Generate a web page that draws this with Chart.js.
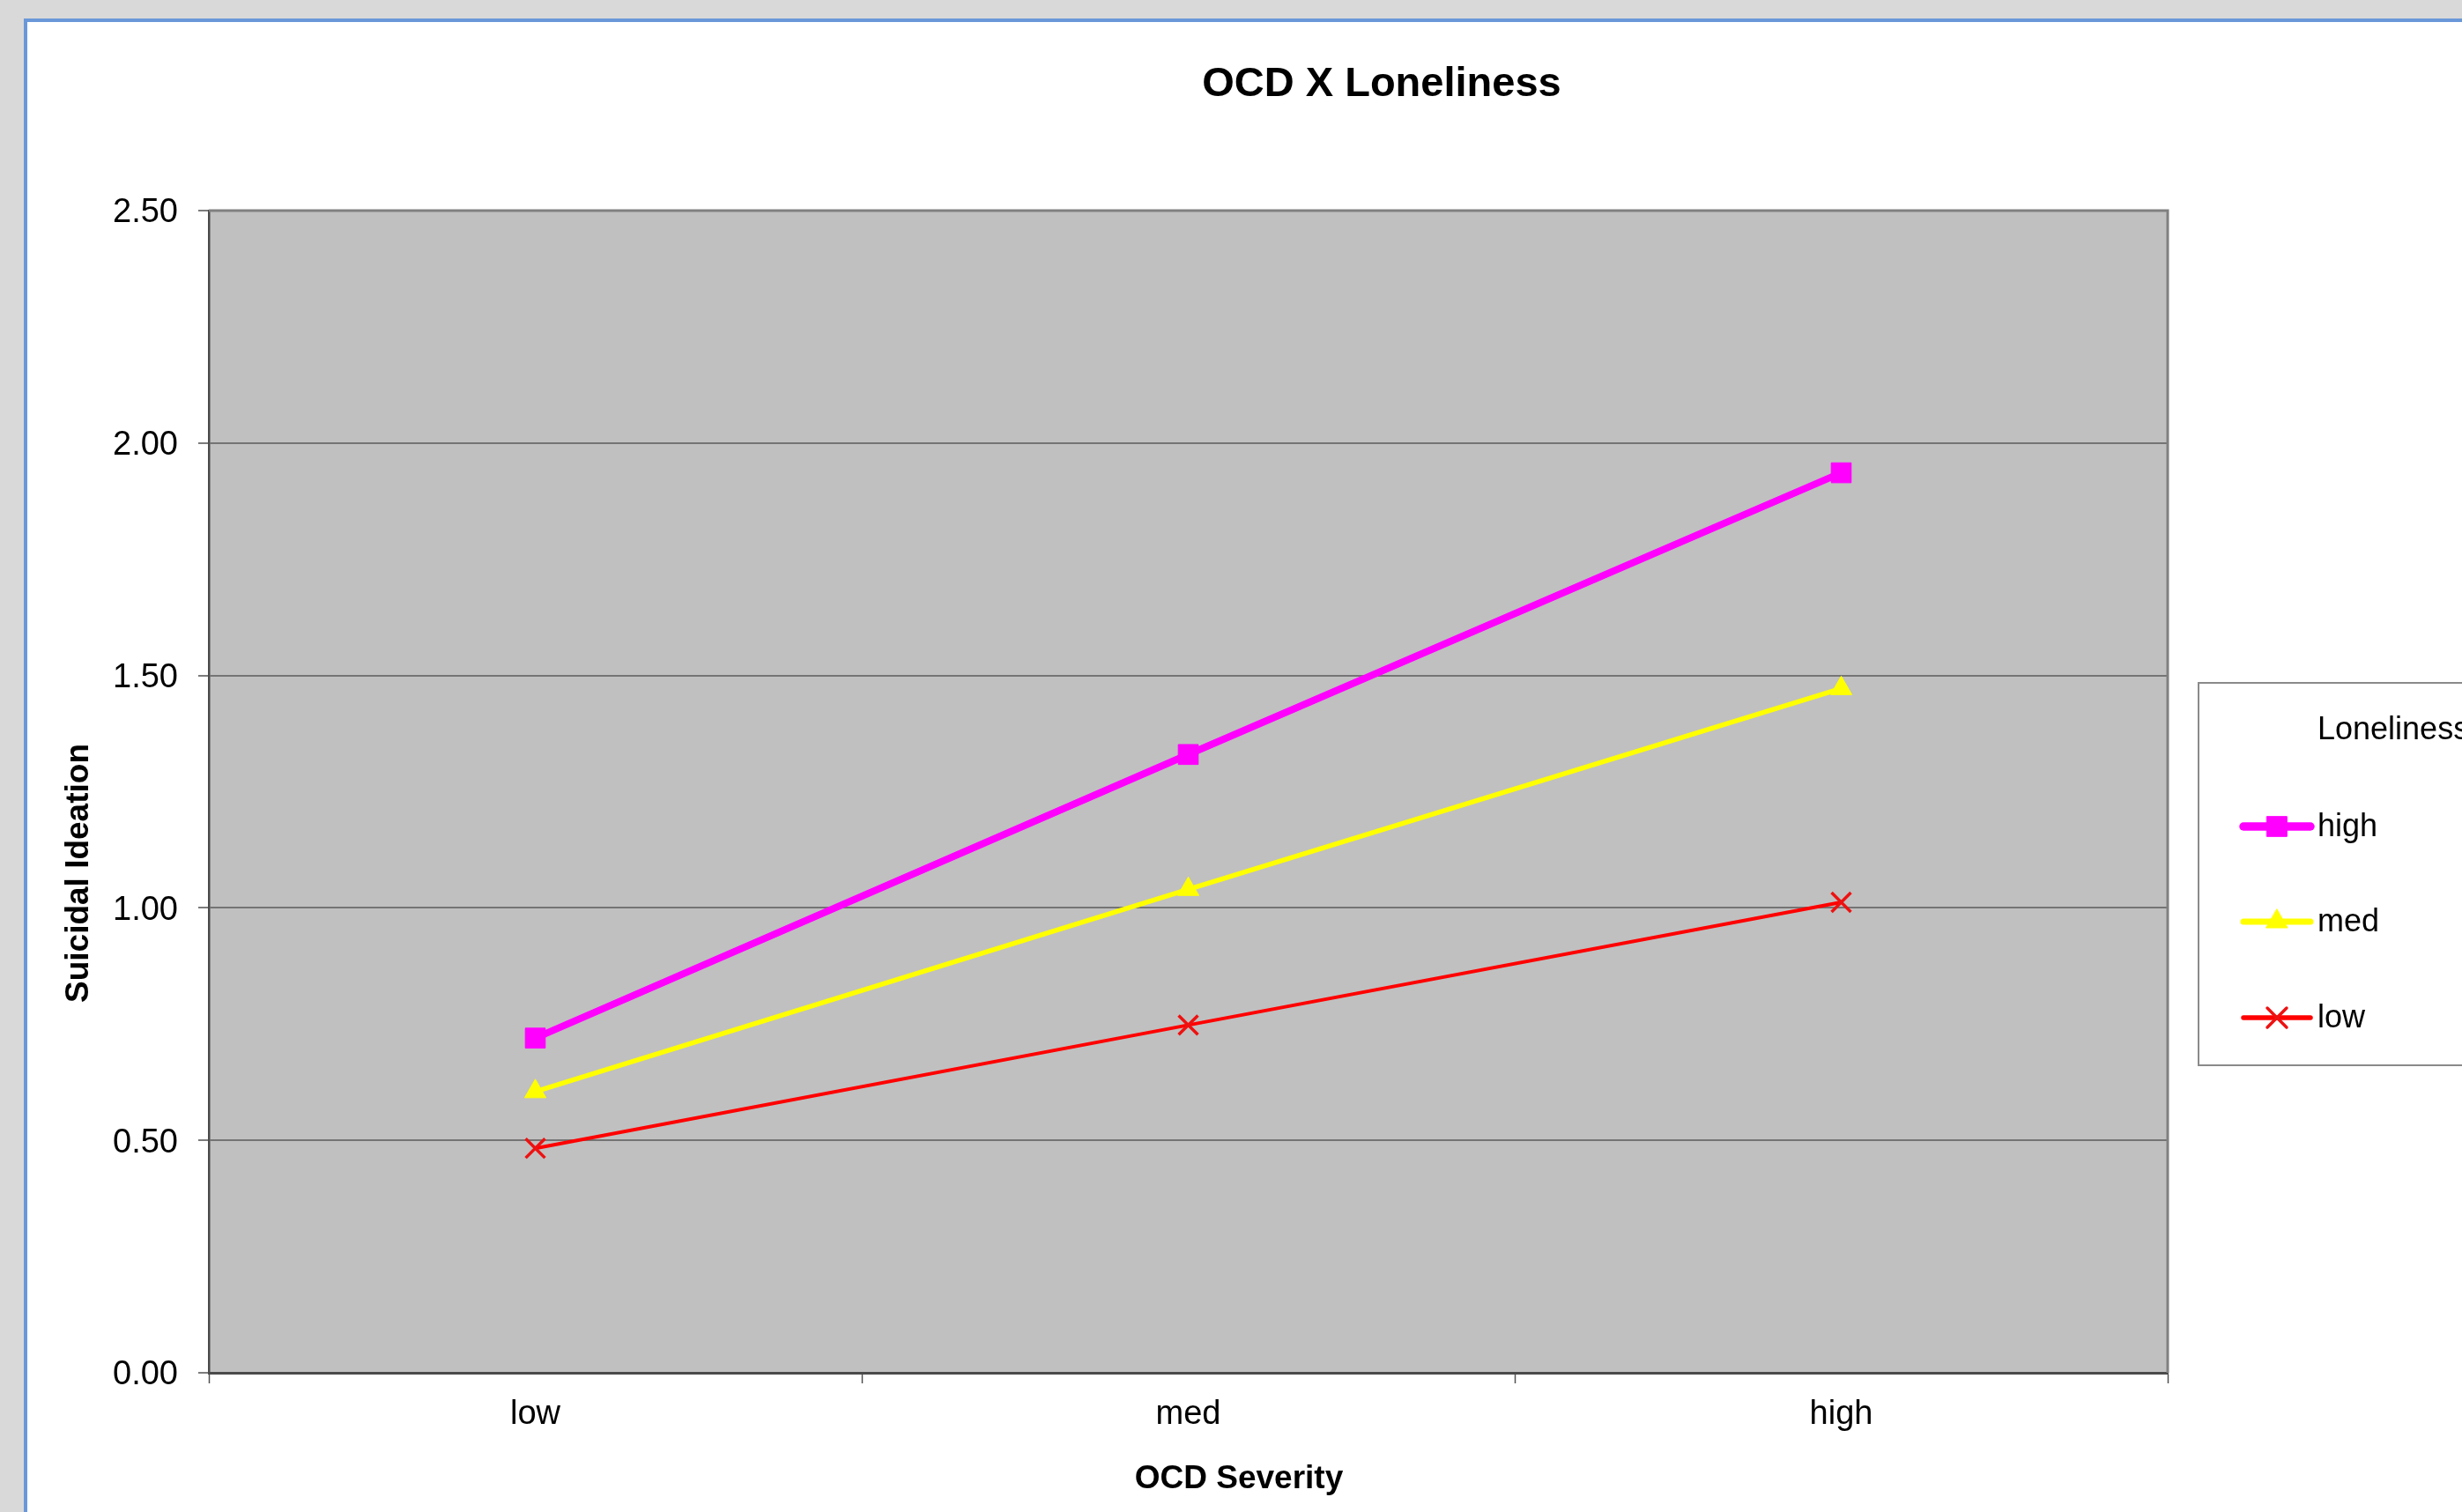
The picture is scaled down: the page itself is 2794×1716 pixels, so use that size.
<!DOCTYPE html>
<html>
<head>
<meta charset="utf-8">
<script src="https://cdn.jsdelivr.net/npm/chart.js@4/dist/chart.umd.min.js"></script>
<style>
  html, body { margin: 0; padding: 0; overflow: hidden; background: #d9d9d9; }
  canvas { display: block; }
</style>
</head>
<body>
<canvas id="chart" width="2794" height="1716"></canvas>
<script>
// OCD severity levels on the x axis
const categories = ['low', 'med', 'high'];

// Suicidal ideation by loneliness level
const lonelinessHigh = [0.72, 1.33, 1.936];
const lonelinessMed  = [0.605, 1.04, 1.472];
const lonelinessLow  = [0.483, 0.748, 1.012];

const seriesNames = ['high', 'med', 'low'];

// Value axis range and tick step
const yMin = 0;
const yMax = 2.5;
const yStep = 0.5;

const chartTitle = 'OCD X Loneliness';
const xTitle = 'OCD Severity';
const yTitle = 'Suicidal Ideation';
const legendTitle = 'Loneliness';

const FONT = '"Liberation Sans", Arial, Helvetica, sans-serif';
Chart.defaults.font.family = FONT;
Chart.defaults.color = '#000000';

// Page frame, plot background and plot border
const framePlugin = {
  id: 'frame',
  beforeDraw(chart) {
    const ctx = chart.ctx;
    const a = chart.chartArea;
    ctx.save();
    ctx.fillStyle = '#d9d9d9';
    ctx.fillRect(0, 0, chart.width, chart.height);
    ctx.fillStyle = '#6a97d8';
    ctx.fillRect(27, 21, chart.width, chart.height);
    ctx.fillStyle = '#ffffff';
    ctx.fillRect(31, 25, chart.width, chart.height);
    ctx.fillStyle = '#c0c0c0';
    ctx.fillRect(a.left, a.top, a.right - a.left, a.bottom - a.top);
    ctx.restore();
  },
  beforeDatasetsDraw(chart) {
    const ctx = chart.ctx;
    const a = chart.chartArea;
    ctx.save();
    ctx.strokeStyle = '#808080';
    ctx.lineWidth = 3;
    ctx.beginPath();
    ctx.moveTo(a.left, a.top);
    ctx.lineTo(a.right, a.top);
    ctx.lineTo(a.right, a.bottom);
    ctx.stroke();
    ctx.restore();
  }
};

// Chart title, axis titles and the legend box
const textPlugin = {
  id: 'texts',
  afterDraw(chart) {
    const ctx = chart.ctx;
    ctx.save();
    ctx.fillStyle = '#000000';
    ctx.textAlign = 'center';
    ctx.textBaseline = 'middle';

    ctx.font = 'bold 47px ' + FONT;
    ctx.fillText(chartTitle, 1568, 96);

    ctx.font = 'bold 37px ' + FONT;
    ctx.fillText(xTitle, 1406, 1679);

    ctx.save();
    ctx.translate(90, 991);
    ctx.rotate(-Math.PI / 2);
    ctx.fillText(yTitle, 0, 0);
    ctx.restore();

    // legend
    const bx = 2495, by = 775, bh = 434;
    ctx.fillStyle = '#ffffff';
    ctx.fillRect(bx, by, chart.width, bh);
    ctx.strokeStyle = '#8a8a8a';
    ctx.lineWidth = 2;
    ctx.strokeRect(bx, by, chart.width, bh);

    ctx.fillStyle = '#000000';
    ctx.textAlign = 'left';
    ctx.font = '36px ' + FONT;
    ctx.fillText(legendTitle, 2630, 829);

    const rows = [938, 1046, 1155];
    chart.data.datasets.forEach((ds, i) => {
      const y = rows[i];
      ctx.save();
      ctx.strokeStyle = ds.borderColor;
      ctx.lineWidth = ds.borderWidth + 1.5;
      ctx.lineCap = 'round';
      ctx.beginPath();
      ctx.moveTo(2546, y);
      ctx.lineTo(2622, y);
      ctx.stroke();
      ctx.fillStyle = ds.pointBackgroundColor;
      ctx.strokeStyle = ds.pointBorderColor;
      ctx.lineWidth = ds.pointBorderWidth;
      Chart.helpers.drawPoint(ctx, {
        pointStyle: ds.pointStyle,
        radius: ds.pointRadius,
        rotation: 0,
        borderWidth: ds.pointBorderWidth
      }, 2584, y);
      ctx.restore();
      ctx.fillStyle = '#000000';
      ctx.fillText(ds.label, 2630, y + 1);
    });
    ctx.restore();
  }
};

const datasets = [
  {
    label: seriesNames[0],
    data: lonelinessHigh,
    borderColor: '#ff00ff',
    borderWidth: 8,
    pointStyle: 'rect',
    pointRadius: 16,
    pointBackgroundColor: '#ff00ff',
    pointBorderColor: '#ff00ff',
    pointBorderWidth: 1
  },
  {
    label: seriesNames[1],
    data: lonelinessMed,
    borderColor: '#ffff00',
    borderWidth: 5.5,
    pointStyle: 'triangle',
    pointRadius: 14,
    pointBackgroundColor: '#ffff00',
    pointBorderColor: '#ffff00',
    pointBorderWidth: 1
  },
  {
    label: seriesNames[2],
    data: lonelinessLow,
    borderColor: '#ff0000',
    borderWidth: 4,
    pointStyle: 'crossRot',
    pointRadius: 15.5,
    pointBackgroundColor: '#ff0000',
    pointBorderColor: '#ee1111',
    pointBorderWidth: 3.5
  }
];

new Chart(document.getElementById('chart'), {
  type: 'line',
  data: { labels: categories, datasets: datasets },
  plugins: [framePlugin, textPlugin],
  options: {
    responsive: false,
    animation: false,
    devicePixelRatio: 1,
    layout: { padding: { top: 239, right: 334, left: 0, bottom: 0 } },
    elements: { line: { tension: 0 } },
    plugins: {
      legend: { display: false },
      title: { display: false },
      tooltip: { enabled: false }
    },
    scales: {
      x: {
        type: 'category',
        offset: true,
        grid: {
          offset: true,
          drawOnChartArea: false,
          drawTicks: true,
          tickLength: 12,
          tickColor: '#505050',
          tickWidth: 1.5
        },
        border: { display: true, color: '#4a4a4a', width: 3 },
        ticks: {
          font: { size: 38 },
          color: '#000000',
          padding: 13,
          maxRotation: 0
        },
        afterFit(scale) { scale.height = 158; }
      },
      y: {
        min: yMin,
        max: yMax,
        grid: {
          color: '#747474',
          lineWidth: 2,
          tickLength: 12,
          tickColor: '#505050',
          tickWidth: 1.5
        },
        border: { display: true, color: '#4a4a4a', width: 2.5 },
        ticks: {
          stepSize: yStep,
          font: { size: 38 },
          color: '#000000',
          padding: 23,
          labelOffset: 3,
          callback: (v) => Number(v).toFixed(2)
        },
        afterFit(scale) { scale.width = 237; }
      }
    }
  }
});
</script>
</body>
</html>
